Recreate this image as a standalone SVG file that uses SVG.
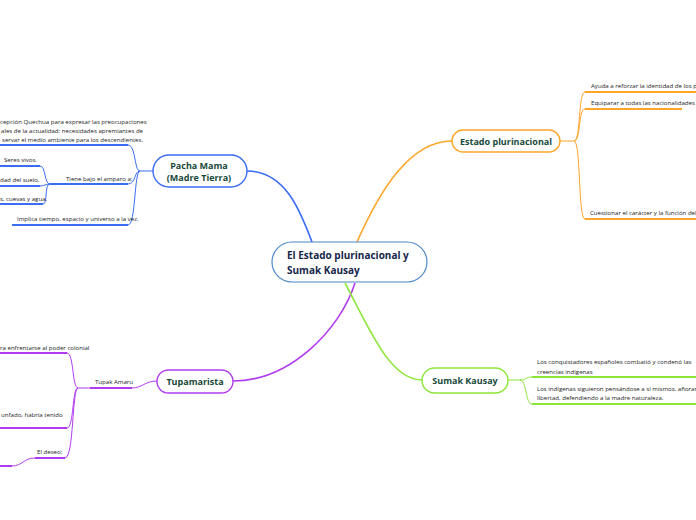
<svg xmlns="http://www.w3.org/2000/svg" width="696" height="520" viewBox="0 0 696 520">
<style>
.t{font-family:"Open Sans","Noto Sans","Liberation Sans",sans-serif;font-size:6.1px;fill:#222}
.n{font-family:"Open Sans","Noto Sans","Liberation Sans",sans-serif;font-size:9px;font-weight:bold;fill:#17493a}
.c{font-family:"Open Sans","Noto Sans","Liberation Sans",sans-serif;font-size:10px;font-weight:bold;fill:#15264a}
.th{fill:none;stroke-width:1}
.ul{fill:none;stroke-width:2}
.m{fill:none;stroke-width:1.6}
.b{stroke:#3a6cf4}.o{stroke:#ffa528}.p{stroke:#b03cf0}.g{stroke:#8ee53a}
</style>
<rect width="696" height="520" fill="#fff"/>
<g id="connectors">
<path class="m b" d="M312,242 C300,210 285,171 247,171"/>
<path class="m o" d="M357,242 C380,190 410,141 452,141"/>
<path class="m p" d="M355,283 C340,330 290,381 233,381"/>
<path class="m g" d="M345,283 C370,330 390,380 422,380"/>
<path class="th b" d="M153,171 L140,171"/>
<path class="th b" d="M140,171 C134,171 136,145 128,145"/>
<path class="th b" d="M140,171 C134,171 136,184 128,184"/>
<path class="th b" d="M140,171 C134,171 136,225 128,225"/>
<path class="ul b" d="M0,145 L128,145"/>
<path class="ul b" d="M50,184 L128,184"/>
<path class="ul b" d="M12,225 L128,225"/>
<path class="th b" d="M50,184 C44,184 46,166 40,166"/>
<path class="th b" d="M50,184 C46,184 44,186 40,186"/>
<path class="th b" d="M50,184 C44,184 48,204 43,204"/>
<path class="ul b" d="M0,166 L40,166"/>
<path class="ul b" d="M0,186 L40,186"/>
<path class="ul b" d="M0,204 L43,204"/>
<path class="th o" d="M560,141 L574,141"/>
<path class="th o" d="M574,141 C581,141 578,92 585,92"/>
<path class="th o" d="M574,141 C581,141 578,109 585,109"/>
<path class="th o" d="M574,141 C581,141 578,219 585,219"/>
<path class="ul o" d="M585,92 L696,92"/>
<path class="ul o" d="M585,109 L682,109"/>
<path class="ul o" d="M585,219 L696,219"/>
<path class="th g" d="M508,380 L520,380"/>
<path class="th g" d="M520,380 C527,380 525,377 532,377"/>
<path class="th g" d="M520,380 C527,380 525,404 532,404"/>
<path class="ul g" d="M532,377 L696,377"/>
<path class="ul g" d="M532,404 L696,404"/>
<path class="th p" d="M157,381 C145,381 142,388 132,388"/>
<path class="ul p" d="M90,388 L132,388"/>
<path class="th p" d="M90,388 L78,388"/>
<path class="th p" d="M78,388 C72,388 74,353 67,353"/>
<path class="th p" d="M78,388 C72,388 74,428 67,428"/>
<path class="th p" d="M78,388 C72,388 74,458 65,458"/>
<path class="ul p" d="M0,353 L67,353"/>
<path class="ul p" d="M0,428 L67,428"/>
<path class="ul p" d="M35,458 L65,458"/>
<path class="th p" d="M35,458 C24,458 22,466 12,466"/>
<path class="ul p" d="M0,466 L12,466"/>
</g>
<g id="central">
<rect x="272" y="242" width="155" height="40" rx="20" fill="#fff" stroke="#4a88c8" stroke-width="1.2"/>
<text class="c" x="287" y="259">El Estado plurinacional y</text>
<text class="c" x="287" y="274">Sumak Kausay</text>
</g>
<g id="pacha-mama">
<rect x="153" y="155" width="94" height="32" rx="16" fill="#fff" stroke="#3a6cf4" stroke-width="1.4"/>
<text class="n" x="199" y="169" text-anchor="middle">Pacha Mama</text>
<text class="n" x="199" y="181" text-anchor="middle">(Madre Tierra)</text>
</g>
<g id="pm-1">
<text class="t" x="0" y="124">cepción Quechua para expresar las preocupaciones</text>
<text class="t" x="1" y="133">ales de la actualidad; necesidades apremiantes de</text>
<text class="t" x="2" y="142">servar el medio ambiente para los descendientes.</text>
</g>
<g id="pm-2"><text class="t" x="66" y="181">Tiene bajo el amparo a:</text></g>
<g id="pm-2a"><text class="t" x="4" y="162">Seres vivos.</text></g>
<g id="pm-2b"><text class="t" x="0" y="182">dad del suelo.</text></g>
<g id="pm-2c"><text class="t" x="0" y="201">s, cuevas y agua.</text></g>
<g id="pm-3"><text class="t" x="17" y="221">Implica tiempo, espacio y universo a la vez.</text></g>
<g id="estado">
<rect x="452" y="130" width="108" height="22" rx="11" fill="#fff" stroke="#ffa528" stroke-width="1.4"/>
<text class="n" x="506" y="144.5" text-anchor="middle">Estado plurinacional</text>
</g>
<g id="es-1"><text class="t" x="591" y="88">Ayuda a reforzar la identidad de los pu</text></g>
<g id="es-2"><text class="t" x="591" y="105">Equiparar a todas las nacionalidades</text></g>
<g id="es-3"><text class="t" x="590" y="215">Cuestionar el carácter y la función del</text></g>
<g id="sumak">
<rect x="422" y="368" width="86" height="25" rx="12.5" fill="#fff" stroke="#8ee53a" stroke-width="1.4"/>
<text class="n" x="465" y="384" text-anchor="middle">Sumak Kausay</text>
</g>
<g id="sk-1">
<text class="t" x="537" y="364">Los conquistadores españoles combatió y condenó las</text>
<text class="t" x="537" y="374">creencias indígenas</text>
</g>
<g id="sk-2">
<text class="t" x="537" y="391">Los indígenas siguieron pensándose a sí mismos, añoran</text>
<text class="t" x="537" y="400">libertad, defendiendo a la madre naturaleza.</text>
</g>
<g id="tupamarista">
<rect x="157" y="370" width="76" height="23" rx="11.5" fill="#fff" stroke="#b03cf0" stroke-width="1.4"/>
<text class="n" x="195" y="385" text-anchor="middle">Tupamarista</text>
</g>
<g id="tu-1"><text class="t" x="95" y="384">Tupak Amaru</text></g>
<g id="tu-1a"><text class="t" x="0" y="350">ra enfrentarse al poder colonial</text></g>
<g id="tu-1b"><text class="t" x="1" y="417">unfado, habría tenido</text></g>
<g id="tu-1c"><text class="t" x="37" y="454">El deseo:</text></g>
</svg>
